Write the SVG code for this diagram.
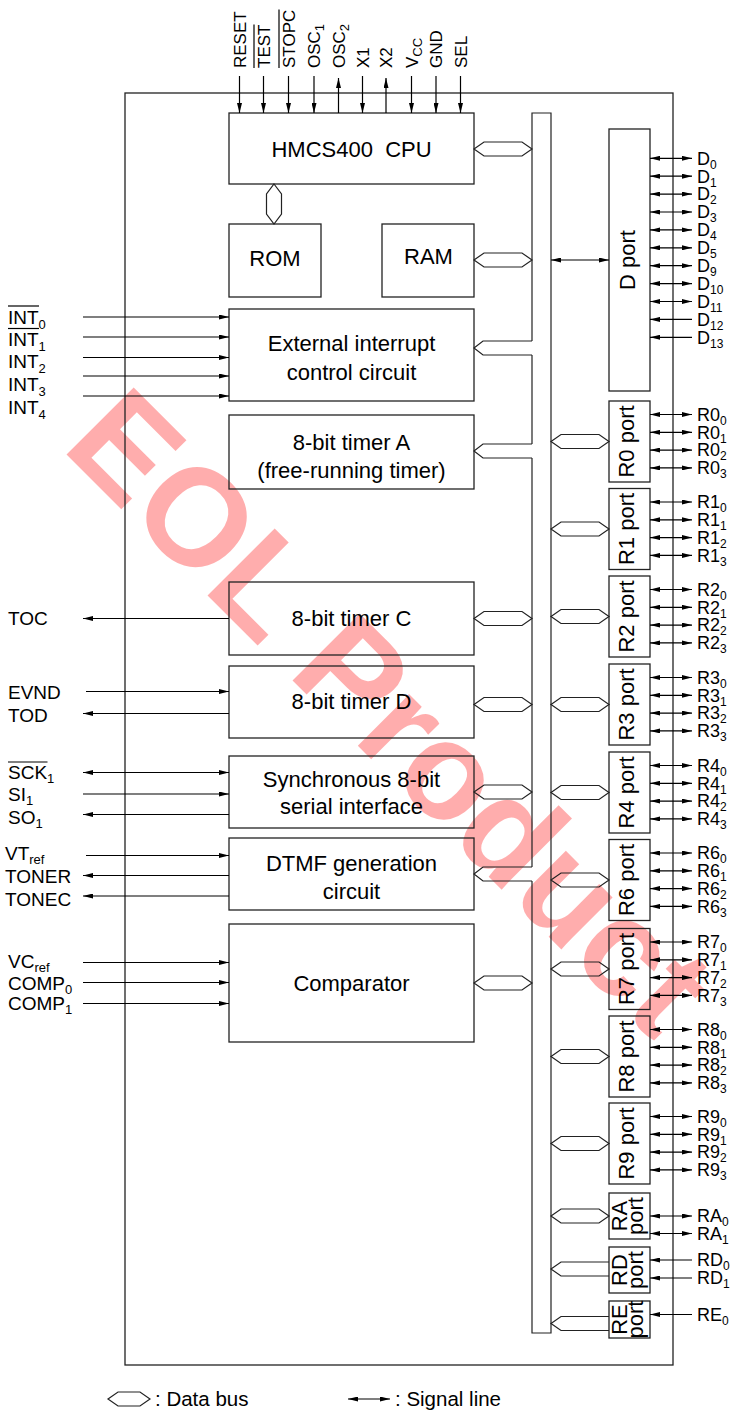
<svg xmlns="http://www.w3.org/2000/svg" width="732" height="1414" viewBox="0 0 732 1414">
<defs>
<style>
text{font-family:"Liberation Sans",Arial,Helvetica,sans-serif;fill:#000}
.wm{fill:#ff0000;fill-opacity:0.32;font-weight:bold;font-size:138px}
.box{fill:none;stroke:#222;stroke-width:1.3}
.bl{font-size:22px;text-anchor:middle}
.pin{font-size:19px}
.rp{font-size:18px}
.top{font-size:17px}
.port{font-size:22px;text-anchor:middle}
.bs{fill:none;stroke:#222;stroke-width:1.2}
.sig{stroke:#000;stroke-width:1.2;fill:none}
.a{marker-end:url(#ah)}
.b{marker-start:url(#ah);marker-end:url(#ah)}
.ol{stroke:#000;stroke-width:1.2}
.sub{font-size:13px}
.rp .sub{font-size:12px}
</style>
<marker id="ah" viewBox="0 0 10 5" refX="10" refY="2.5" markerWidth="10" markerHeight="5" markerUnits="userSpaceOnUse" orient="auto-start-reverse"><path d="M0,0 L10,2.5 L0,5 z" fill="#000"/></marker>
</defs>
<rect width="732" height="1414" fill="#fff"/>
<g id="watermark"><text class="wm" transform="translate(60,448) rotate(45)">EOL Product</text></g>

<g id="chip"><rect x="125" y="93" width="548" height="1272" class="box"/></g>

<g id="cpu"><rect x="229" y="113" width="245" height="71" class="box"/><text x="351.5" y="157" class="bl" font-size="19" xml:space="preserve">HMCS400  CPU</text></g>
<g id="rom"><rect x="229" y="224" width="92" height="73" class="box"/><text x="275" y="266" class="bl" font-size="19">ROM</text></g>
<g id="ram"><rect x="382" y="224" width="92" height="73" class="box"/><text x="428.5" y="264" class="bl" font-size="19">RAM</text></g>
<g id="extint"><rect x="229" y="309" width="245" height="92" class="box"/><text x="351.5" y="351" class="bl">External interrupt</text><text x="351.5" y="380" class="bl">control circuit</text></g>
<g id="timerA"><rect x="229" y="415" width="245" height="74" class="box"/><text x="351.5" y="450" class="bl">8-bit timer A</text><text x="351.5" y="478" class="bl">(free-running timer)</text></g>
<g id="timerC"><rect x="229" y="582" width="245" height="73" class="box"/><text x="351.5" y="626" class="bl">8-bit timer C</text></g>
<g id="timerD"><rect x="229" y="666" width="245" height="72" class="box"/><text x="351.5" y="709" class="bl">8-bit timer D</text></g>
<g id="serial"><rect x="229" y="756" width="245" height="72" class="box"/><text x="351.5" y="787" class="bl">Synchronous 8-bit</text><text x="351.5" y="814" class="bl">serial interface</text></g>
<g id="dtmf"><rect x="229" y="838" width="245" height="72" class="box"/><text x="351.5" y="871" class="bl">DTMF generation</text><text x="351.5" y="899" class="bl">circuit</text></g>
<g id="comparator"><rect x="229" y="924" width="245" height="118" class="box"/><text x="351.5" y="991" class="bl">Comparator</text></g>

<g id="dport"><rect x="609" y="129" width="41" height="262" class="box"/><text class="port" transform="translate(635,260) rotate(-90)">D port</text></g>
<g id="r0port"><rect x="609" y="401" width="41" height="81" class="box"/><text class="port" transform="translate(634,441.5) rotate(-90)">R0 port</text></g>
<g id="r1port"><rect x="609" y="488.5" width="41" height="81" class="box"/><text class="port" transform="translate(634,529) rotate(-90)">R1 port</text></g>
<g id="r2port"><rect x="609" y="576" width="41" height="81" class="box"/><text class="port" transform="translate(634,616.5) rotate(-90)">R2 port</text></g>
<g id="r3port"><rect x="609" y="664" width="41" height="81" class="box"/><text class="port" transform="translate(634,704.5) rotate(-90)">R3 port</text></g>
<g id="r4port"><rect x="609" y="752" width="41" height="81" class="box"/><text class="port" transform="translate(634,792.5) rotate(-90)">R4 port</text></g>
<g id="r6port"><rect x="609" y="839.5" width="41" height="81" class="box"/><text class="port" transform="translate(634,880) rotate(-90)">R6 port</text></g>
<g id="r7port"><rect x="609" y="928.5" width="41" height="81" class="box"/><text class="port" transform="translate(634,969) rotate(-90)">R7 port</text></g>
<g id="r8port"><rect x="609" y="1016" width="41" height="81" class="box"/><text class="port" transform="translate(634,1056.5) rotate(-90)">R8 port</text></g>
<g id="r9port"><rect x="609" y="1103" width="41" height="81" class="box"/><text class="port" transform="translate(634,1143.5) rotate(-90)">R9 port</text></g>
<g id="raport"><rect x="609" y="1193" width="41" height="46" class="box"/><text class="port" transform="translate(626.5,1216) rotate(-90)"><tspan x="0" y="0">RA</tspan><tspan x="0" y="16">port</tspan></text></g>
<g id="rdport"><rect x="609" y="1247" width="41" height="46" class="box"/><text class="port" transform="translate(626.5,1270) rotate(-90)"><tspan x="0" y="0">RD</tspan><tspan x="0" y="16">port</tspan></text></g>
<g id="report"><rect x="609" y="1301" width="41" height="37" class="box"/><text class="port" transform="translate(626.5,1319.5) rotate(-90)"><tspan x="0" y="0">RE</tspan><tspan x="0" y="16">port</tspan></text></g>

<g id="connectors">
<path class="bs" d="M532,341 V113 H551 V1333 H532 V881 M532,867 V458 M532,444 V355"/>
<path class="bs" d="M474,149 L484,142 L522,142 L532,149 L522,156 L484,156 Z"/>
<path class="bs" d="M474,260 L484,253 L522,253 L532,260 L522,267 L484,267 Z"/>
<path class="bs" d="M532,341 H483 L474,348 L483,355 H532"/>
<path class="bs" d="M532,444 H483 L474,451 L483,458 H532"/>
<path class="bs" d="M474,618.5 L484,611.5 L522,611.5 L532,618.5 L522,625.5 L484,625.5 Z"/>
<path class="bs" d="M474,704.5 L484,697.5 L522,697.5 L532,704.5 L522,711.5 L484,711.5 Z"/>
<path class="bs" d="M474,792 L484,785 L522,785 L532,792 L522,799 L484,799 Z"/>
<path class="bs" d="M532,867 H483 L474,874 L483,881 H532"/>
<path class="bs" d="M474,983 L484,976 L522,976 L532,983 L522,990 L484,990 Z"/>
<path class="bs" d="M274,184 L281.5,194 L281.5,214 L274,224 L266.5,214 L266.5,194 Z"/>
<path class="bs" d="M551,441.5 l10,-7 h38 l10,7 l-10,7 h-38 Z"/>
<path class="bs" d="M551,529 l10,-7 h38 l10,7 l-10,7 h-38 Z"/>
<path class="bs" d="M551,616.5 l10,-7 h38 l10,7 l-10,7 h-38 Z"/>
<path class="bs" d="M551,704.5 l10,-7 h38 l10,7 l-10,7 h-38 Z"/>
<path class="bs" d="M551,792.5 l10,-7 h38 l10,7 l-10,7 h-38 Z"/>
<path class="bs" d="M551,880 l10,-7 h38 l10,7 l-10,7 h-38 Z"/>
<path class="bs" d="M551,969 l10,-7 h38 l10,7 l-10,7 h-38 Z"/>
<path class="bs" d="M551,1056.5 l10,-7 h38 l10,7 l-10,7 h-38 Z"/>
<path class="bs" d="M551,1143.5 l10,-7 h38 l10,7 l-10,7 h-38 Z"/>
<path class="bs" d="M551,1216 l10,-7 h38 l10,7 l-10,7 h-38 Z"/>
<path class="bs" d="M609,1262 H561 L551,1269 L561,1276 H609"/>
<path class="bs" d="M609,1316.5 H561 L551,1323.5 L561,1330.5 H609"/>
<line class="sig b" x1="551" y1="260" x2="609" y2="260"/>
<line class="sig a" x1="239.5" y1="76" x2="239.5" y2="113"/>
<line class="sig a" x1="263.5" y1="76" x2="263.5" y2="113"/>
<line class="sig a" x1="288.5" y1="76" x2="288.5" y2="113"/>
<line class="sig a" x1="314" y1="76" x2="314" y2="113"/>
<line class="sig a" x1="338.5" y1="113" x2="338.5" y2="78"/>
<line class="sig a" x1="362.5" y1="76" x2="362.5" y2="113"/>
<line class="sig a" x1="386" y1="113" x2="386" y2="78"/>
<line class="sig a" x1="411.5" y1="76" x2="411.5" y2="113"/>
<line class="sig a" x1="436" y1="76" x2="436" y2="113"/>
<line class="sig a" x1="460.5" y1="76" x2="460.5" y2="113"/>
<line class="sig a" x1="83" y1="317" x2="229" y2="317"/>
<line class="sig a" x1="83" y1="337" x2="229" y2="337"/>
<line class="sig a" x1="83" y1="357.5" x2="229" y2="357.5"/>
<line class="sig a" x1="83" y1="376" x2="229" y2="376"/>
<line class="sig a" x1="83" y1="396" x2="229" y2="396"/>
<line class="sig a" x1="229" y1="618.5" x2="83" y2="618.5"/>
<line class="sig a" x1="86" y1="691.5" x2="229" y2="691.5"/>
<line class="sig a" x1="229" y1="713.5" x2="83" y2="713.5"/>
<line class="sig b" x1="83" y1="772.5" x2="229" y2="772.5"/>
<line class="sig a" x1="83" y1="794" x2="229" y2="794"/>
<line class="sig a" x1="229" y1="814.5" x2="83" y2="814.5"/>
<line class="sig a" x1="86" y1="855.5" x2="229" y2="855.5"/>
<line class="sig a" x1="229" y1="875.5" x2="83" y2="875.5"/>
<line class="sig a" x1="229" y1="896" x2="83" y2="896"/>
<line class="sig a" x1="83" y1="962.5" x2="229" y2="962.5"/>
<line class="sig a" x1="83" y1="982.5" x2="229" y2="982.5"/>
<line class="sig a" x1="83" y1="1003.5" x2="229" y2="1003.5"/>
<line class="sig b" x1="650" y1="158.3" x2="692" y2="158.3"/>
<line class="sig b" x1="650" y1="176.2" x2="692" y2="176.2"/>
<line class="sig b" x1="650" y1="194.1" x2="692" y2="194.1"/>
<line class="sig b" x1="650" y1="212" x2="692" y2="212"/>
<line class="sig b" x1="650" y1="229.9" x2="692" y2="229.9"/>
<line class="sig b" x1="650" y1="247.8" x2="692" y2="247.8"/>
<line class="sig b" x1="650" y1="265.7" x2="692" y2="265.7"/>
<line class="sig b" x1="650" y1="283.6" x2="692" y2="283.6"/>
<line class="sig b" x1="650" y1="301.5" x2="692" y2="301.5"/>
<line class="sig a" x1="692" y1="319.4" x2="650" y2="319.4"/>
<line class="sig a" x1="692" y1="337.3" x2="650" y2="337.3"/>
<g class="sig b">
<line x1="650" y1="414.5" x2="692" y2="414.5"/><line x1="650" y1="432.3" x2="692" y2="432.3"/><line x1="650" y1="450.1" x2="692" y2="450.1"/><line x1="650" y1="467.9" x2="692" y2="467.9"/>
<line x1="650" y1="502" x2="692" y2="502"/><line x1="650" y1="519.8" x2="692" y2="519.8"/><line x1="650" y1="537.6" x2="692" y2="537.6"/><line x1="650" y1="555.4" x2="692" y2="555.4"/>
<line x1="650" y1="589.5" x2="692" y2="589.5"/><line x1="650" y1="607.3" x2="692" y2="607.3"/><line x1="650" y1="625.1" x2="692" y2="625.1"/><line x1="650" y1="642.9" x2="692" y2="642.9"/>
<line x1="650" y1="677.5" x2="692" y2="677.5"/><line x1="650" y1="695.3" x2="692" y2="695.3"/><line x1="650" y1="713.1" x2="692" y2="713.1"/><line x1="650" y1="730.9" x2="692" y2="730.9"/>
<line x1="650" y1="765.5" x2="692" y2="765.5"/><line x1="650" y1="783.3" x2="692" y2="783.3"/><line x1="650" y1="801.1" x2="692" y2="801.1"/><line x1="650" y1="818.9" x2="692" y2="818.9"/>
<line x1="650" y1="853" x2="692" y2="853"/><line x1="650" y1="870.8" x2="692" y2="870.8"/><line x1="650" y1="888.6" x2="692" y2="888.6"/><line x1="650" y1="906.4" x2="692" y2="906.4"/>
<line x1="650" y1="942" x2="692" y2="942"/><line x1="650" y1="959.8" x2="692" y2="959.8"/><line x1="650" y1="977.6" x2="692" y2="977.6"/><line x1="650" y1="995.4" x2="692" y2="995.4"/>
<line x1="650" y1="1029.5" x2="692" y2="1029.5"/><line x1="650" y1="1047.3" x2="692" y2="1047.3"/><line x1="650" y1="1065.1" x2="692" y2="1065.1"/><line x1="650" y1="1082.9" x2="692" y2="1082.9"/>
<line x1="650" y1="1116.5" x2="692" y2="1116.5"/><line x1="650" y1="1134.3" x2="692" y2="1134.3"/><line x1="650" y1="1152.1" x2="692" y2="1152.1"/><line x1="650" y1="1169.9" x2="692" y2="1169.9"/>
<line x1="650" y1="1216" x2="692" y2="1216"/><line x1="650" y1="1233.5" x2="692" y2="1233.5"/>
</g>
<line class="sig a" x1="692" y1="1260" x2="650" y2="1260"/>
<line class="sig a" x1="692" y1="1278" x2="650" y2="1278"/>
<line class="sig a" x1="692" y1="1314.5" x2="650" y2="1314.5"/>
</g>

<g id="top-labels" class="top">
<text transform="translate(245.5,68) rotate(-90)">RESET</text>
<text transform="translate(269.5,68) rotate(-90)">TEST</text>
<line class="ol" x1="254" y1="68" x2="254" y2="24.5"/>
<text transform="translate(294.5,68) rotate(-90)">STOPC</text>
<line class="ol" x1="279" y1="68" x2="279" y2="9.5"/>
<text transform="translate(320,68) rotate(-90)">OSC<tspan class="sub" font-size="12" dy="4">1</tspan></text>
<text transform="translate(344.5,68) rotate(-90)">OSC<tspan class="sub" font-size="12" dy="4">2</tspan></text>
<text transform="translate(368.5,68) rotate(-90)">X1</text>
<text transform="translate(392,68) rotate(-90)">X2</text>
<text transform="translate(417.5,68) rotate(-90)">V<tspan class="sub" font-size="12" dy="4">CC</tspan></text>
<text transform="translate(442,68) rotate(-90)">GND</text>
<text transform="translate(466.5,68) rotate(-90)">SEL</text>
</g>

<g id="left-labels" class="pin">
<text x="8" y="323.5">INT<tspan class="sub" dy="5">0</tspan></text>
<line class="ol" x1="8" y1="306" x2="39" y2="306"/>
<text x="8" y="345.5">INT<tspan class="sub" dy="5">1</tspan></text>
<line class="ol" x1="8" y1="328.5" x2="39" y2="328.5"/>
<text x="8" y="368">INT<tspan class="sub" dy="5">2</tspan></text>
<text x="8" y="391">INT<tspan class="sub" dy="5">3</tspan></text>
<text x="8" y="414">INT<tspan class="sub" dy="5">4</tspan></text>
<text x="8" y="625">TOC</text>
<text x="8" y="699">EVND</text>
<text x="8" y="721.5">TOD</text>
<text x="8" y="779">SCK<tspan class="sub" dy="4">1</tspan></text>
<line class="ol" x1="8" y1="762" x2="47.5" y2="762"/>
<text x="8" y="801">SI<tspan class="sub" dy="3.5">1</tspan></text>
<text x="8" y="823.5">SO<tspan class="sub" dy="4">1</tspan></text>
<text x="5" y="860">VT<tspan class="sub" dy="4">ref</tspan></text>
<text x="5" y="883">TONER</text>
<text x="5" y="906">TONEC</text>
<text x="8" y="968">VC<tspan class="sub" dy="4">ref</tspan></text>
<text x="8" y="989.5">COMP<tspan class="sub" dy="4">0</tspan></text>
<text x="8" y="1010">COMP<tspan class="sub" dy="4">1</tspan></text>
</g>

<g id="right-labels" class="rp">
<text x="697" y="164.6">D<tspan class="sub" dy="4">0</tspan></text>
<text x="697" y="182.5">D<tspan class="sub" dy="4">1</tspan></text>
<text x="697" y="200.4">D<tspan class="sub" dy="4">2</tspan></text>
<text x="697" y="218.3">D<tspan class="sub" dy="4">3</tspan></text>
<text x="697" y="236.2">D<tspan class="sub" dy="4">4</tspan></text>
<text x="697" y="254.1">D<tspan class="sub" dy="4">5</tspan></text>
<text x="697" y="272">D<tspan class="sub" dy="4">9</tspan></text>
<text x="697" y="289.9">D<tspan class="sub" dy="4">10</tspan></text>
<text x="697" y="307.8">D<tspan class="sub" dy="4">11</tspan></text>
<text x="697" y="325.7">D<tspan class="sub" dy="4">12</tspan></text>
<text x="697" y="343.6">D<tspan class="sub" dy="4">13</tspan></text>
<text x="697" y="420.8">R0<tspan class="sub" dy="4">0</tspan></text>
<text x="697" y="438.6">R0<tspan class="sub" dy="4">1</tspan></text>
<text x="697" y="456.4">R0<tspan class="sub" dy="4">2</tspan></text>
<text x="697" y="474.2">R0<tspan class="sub" dy="4">3</tspan></text>
<text x="697" y="508.3">R1<tspan class="sub" dy="4">0</tspan></text>
<text x="697" y="526.1">R1<tspan class="sub" dy="4">1</tspan></text>
<text x="697" y="543.9">R1<tspan class="sub" dy="4">2</tspan></text>
<text x="697" y="561.7">R1<tspan class="sub" dy="4">3</tspan></text>
<text x="697" y="595.8">R2<tspan class="sub" dy="4">0</tspan></text>
<text x="697" y="613.6">R2<tspan class="sub" dy="4">1</tspan></text>
<text x="697" y="631.4">R2<tspan class="sub" dy="4">2</tspan></text>
<text x="697" y="649.2">R2<tspan class="sub" dy="4">3</tspan></text>
<text x="697" y="683.8">R3<tspan class="sub" dy="4">0</tspan></text>
<text x="697" y="701.6">R3<tspan class="sub" dy="4">1</tspan></text>
<text x="697" y="719.4">R3<tspan class="sub" dy="4">2</tspan></text>
<text x="697" y="737.2">R3<tspan class="sub" dy="4">3</tspan></text>
<text x="697" y="771.8">R4<tspan class="sub" dy="4">0</tspan></text>
<text x="697" y="789.6">R4<tspan class="sub" dy="4">1</tspan></text>
<text x="697" y="807.4">R4<tspan class="sub" dy="4">2</tspan></text>
<text x="697" y="825.2">R4<tspan class="sub" dy="4">3</tspan></text>
<text x="697" y="859.3">R6<tspan class="sub" dy="4">0</tspan></text>
<text x="697" y="877.1">R6<tspan class="sub" dy="4">1</tspan></text>
<text x="697" y="894.9">R6<tspan class="sub" dy="4">2</tspan></text>
<text x="697" y="912.7">R6<tspan class="sub" dy="4">3</tspan></text>
<text x="697" y="948.3">R7<tspan class="sub" dy="4">0</tspan></text>
<text x="697" y="966.1">R7<tspan class="sub" dy="4">1</tspan></text>
<text x="697" y="983.9">R7<tspan class="sub" dy="4">2</tspan></text>
<text x="697" y="1001.7">R7<tspan class="sub" dy="4">3</tspan></text>
<text x="697" y="1035.8">R8<tspan class="sub" dy="4">0</tspan></text>
<text x="697" y="1053.6">R8<tspan class="sub" dy="4">1</tspan></text>
<text x="697" y="1071.4">R8<tspan class="sub" dy="4">2</tspan></text>
<text x="697" y="1089.2">R8<tspan class="sub" dy="4">3</tspan></text>
<text x="697" y="1122.8">R9<tspan class="sub" dy="4">0</tspan></text>
<text x="697" y="1140.6">R9<tspan class="sub" dy="4">1</tspan></text>
<text x="697" y="1158.4">R9<tspan class="sub" dy="4">2</tspan></text>
<text x="697" y="1176.2">R9<tspan class="sub" dy="4">3</tspan></text>
<text x="697" y="1222.3">RA<tspan class="sub" dy="4">0</tspan></text>
<text x="697" y="1239.8">RA<tspan class="sub" dy="4">1</tspan></text>
<text x="697" y="1266.3">RD<tspan class="sub" dy="4">0</tspan></text>
<text x="697" y="1284.3">RD<tspan class="sub" dy="4">1</tspan></text>
<text x="697" y="1320.8">RE<tspan class="sub" dy="4">0</tspan></text>
</g>

<g id="legend">
<path class="bs" d="M108,1399 l10,-7 h22 l10,7 l-10,7 h-22 Z"/>
<text x="155" y="1406" font-size="20.5">: Data bus</text>
<line class="sig b" x1="348" y1="1399" x2="390" y2="1399"/>
<text x="395" y="1406" font-size="20.5">: Signal line</text>
</g>
</svg>
